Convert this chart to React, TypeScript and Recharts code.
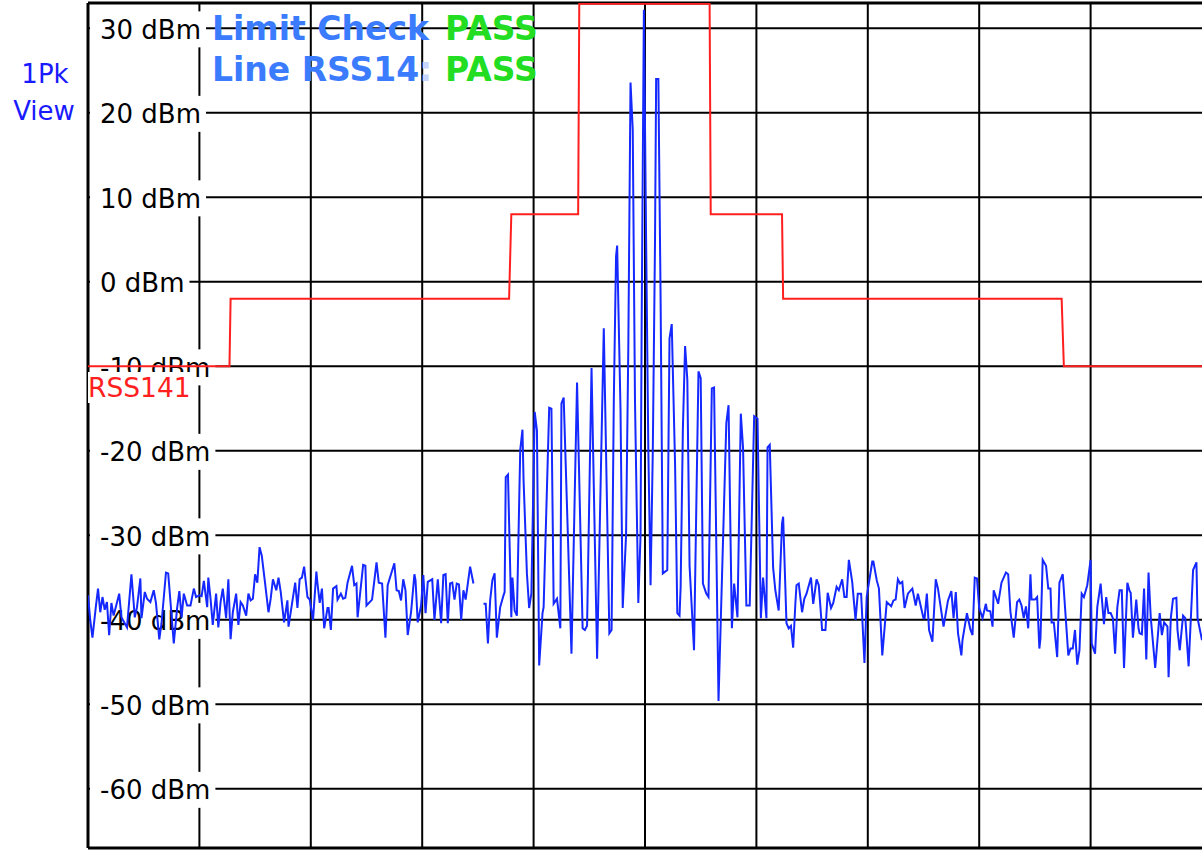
import React from 'react';
import { LineChart, Line, XAxis, YAxis, ReferenceLine } from 'recharts';

// level grid (dBm) and frequency divisions (kHz offset from centre)
const levelTicks = [30, 20, 10, 0, -10, -20, -30, -40, -50, -60];
const freqDivisions = [-400, -300, -200, -100, 0, 100, 200, 300, 400];
const levelRange: [number, number] = [-67, 33];
const freqRange: [number, number] = [-500, 500];

// limit line RSS141: [kHz, dBm]
const limitRss141: [number, number][] = [
  [-500, -10], [-373, -10], [-372, -2], [-122, -2], [-120, 8], [-60, 8], [-59, 32.9],
  [58, 32.9], [59, 8], [123, 8], [124, -2], [374, -2], [376, -10], [500, -10],
];

// trace 1Pk View: [kHz, dBm]
const traceLeft: [number, number][] = [
  [-500, -37.1], [-498, -40.0], [-496, -42.1], [-493, -38.5], [-491, -36.3], [-489, -39.1],
  [-487, -37.3], [-485, -38.8], [-483, -37.9], [-481, -41.8], [-479, -38.0], [-477, -39.5],
  [-472, -36.9], [-470, -39.7], [-465, -40.9], [-461, -34.6], [-458, -39.7], [-456, -38.5],
  [-453, -35.1], [-452, -39.8], [-449, -36.7], [-447, -37.5], [-444, -37.9], [-441, -36.5],
  [-439, -38.0], [-436, -42.3], [-434, -40.4], [-430, -34.4], [-428, -34.5], [-426, -37.8],
  [-423, -42.8], [-420, -38.6], [-418, -36.6], [-416, -39.7], [-414, -36.9], [-411, -38.3],
  [-408, -38.3], [-405, -36.3], [-403, -37.3], [-400, -37.1], [-398, -37.2], [-396, -35.4],
  [-393, -38.5], [-392, -35.0], [-390, -37.5], [-388, -40.6], [-385, -36.9], [-383, -40.9],
  [-381, -37.9], [-379, -36.3], [-376, -39.8], [-374, -35.2], [-372, -42.3], [-370, -39.1],
  [-367, -36.9], [-365, -40.6], [-363, -37.9], [-361, -38.3], [-358, -39.5], [-356, -36.9],
  [-354, -37.7], [-352, -37.5], [-350, -34.6], [-348, -35.6], [-346, -31.4], [-344, -32.4],
  [-341, -35.7], [-338, -39.1], [-336, -37.5], [-334, -35.2], [-331, -36.5], [-329, -35.0],
  [-327, -36.7], [-324, -40.3], [-321, -37.7], [-320, -40.8], [-314, -35.6], [-312, -38.6],
  [-310, -35.2], [-308, -35.0], [-306, -33.7], [-303, -37.3], [-301, -37.6], [-298, -40.0],
  [-295, -34.3], [-294, -35.7], [-292, -38.0], [-290, -36.3], [-288, -41.0], [-285, -38.6],
  [-284, -38.6], [-282, -41.2], [-280, -36.3], [-277, -36.0], [-276, -37.6], [-273, -36.9],
  [-271, -37.5], [-269, -37.4], [-267, -35.6], [-263, -33.6], [-261, -35.9], [-259, -35.7],
  [-258, -39.7], [-253, -33.5], [-251, -33.6], [-250, -38.3], [-245, -37.6], [-241, -33.2],
  [-239, -35.6], [-236, -35.7], [-233, -42.1], [-231, -35.9], [-225, -33.3], [-223, -36.5],
  [-221, -36.6], [-219, -37.7], [-217, -35.2], [-215, -36.5], [-213, -41.8], [-210, -39.1],
  [-207, -34.6], [-206, -35.3], [-204, -40.3], [-201, -38.3], [-199, -34.7], [-197, -39.2],
  [-195, -35.5], [-191, -35.2], [-189, -40.0], [-186, -35.2], [-183, -40.4], [-181, -34.7],
  [-179, -34.6], [-177, -40.4], [-175, -35.7], [-173, -35.6], [-171, -37.6], [-169, -35.7],
  [-167, -35.8], [-165, -40.0], [-163, -36.5], [-161, -37.6], [-157, -33.7], [-154, -35.7],
];

const traceBurst: [number, number][] = [
  [-145, -38.1], [-143, -38.1], [-141, -42.8], [-139, -37.7], [-137, -35.3], [-135, -34.5],
  [-133, -42.1], [-130, -38.5], [-127, -37.1], [-126, -36.7], [-125, -23.1], [-123, -22.8],
  [-120, -39.7], [-119, -35.0], [-117, -38.9], [-115, -39.5], [-112, -19.9], [-110, -17.5],
  [-109, -23.5], [-106, -34.5], [-104, -38.6], [-102, -36.9], [-99, -15.4], [-97, -17.6],
  [-95, -45.4], [-92, -39.2], [-91, -38.5], [-86, -14.9], [-84, -15.0], [-82, -38.1],
  [-79, -37.5], [-76, -41.0], [-75, -14.4], [-73, -13.7], [-66, -44.0], [-61, -11.9],
  [-56, -41.0], [-54, -41.2], [-52, -40.7], [-48, -10.2], [-43, -44.6], [-37, -5.5],
  [-32, -41.6], [-30, -41.2], [-28, -14.0], [-26, 3.0], [-25, 4.3], [-22, -15.0],
  [-20, -38.6], [-17, -30.0], [-15, -8.0], [-13, 23.6], [-11, 18.0], [-9, -14.0],
  [-6, -38.0], [-4, -30.0], [-3, -5.0], [-1, 32.2], [1, 5.0], [3, -20.0],
  [5, -35.9], [7, -20.0], [9, 5.0], [10, 24.0], [12, 24.0], [14, -2.0],
  [16, -34.5], [20, -34.1], [22, -6.7], [24, -5.0], [27, -21.6], [29, -39.2],
  [31, -39.5], [32, -36.1], [34, -17.4], [36, -7.6], [38, -11.6], [40, -33.6],
  [44, -43.6], [48, -10.6], [50, -11.4], [52, -35.7], [55, -36.9], [57, -37.3],
  [60, -12.6], [62, -12.5], [66, -49.6], [73, -16.7], [75, -14.6], [78, -41.0],
  [80, -35.7], [83, -39.7], [86, -15.6], [88, -19.6], [91, -38.3], [94, -38.3],
  [98, -15.9], [101, -16.2], [104, -39.8], [106, -35.0], [109, -39.8], [110, -19.6],
  [112, -19.3], [115, -33.8], [117, -36.5], [120, -38.9], [123, -28.6], [124, -27.8],
  [127, -40.4], [129, -41.0], [131, -40.7], [133, -43.3], [135, -38.0], [136, -35.9],
  [138, -35.7],
];

const traceRight: [number, number][] = [
  [141, -39.1], [143, -37.5], [145, -36.9], [149, -35.0], [151, -38.1], [154, -35.2],
  [156, -35.9], [159, -41.2], [162, -41.2], [164, -36.8], [167, -38.6], [169, -38.0],
  [172, -36.1], [174, -36.5], [177, -35.2], [179, -37.3], [181, -37.3], [183, -32.9],
  [186, -35.5], [189, -40.0], [191, -36.9], [194, -36.9], [197, -45.1], [199, -37.3],
  [204, -33.1], [205, -33.1], [208, -35.3], [210, -36.3], [213, -44.2], [217, -37.9],
  [221, -38.4], [223, -37.7], [225, -37.6], [227, -35.2], [229, -35.7], [231, -35.5],
  [233, -38.6], [236, -36.9], [240, -36.3], [243, -38.3], [245, -36.9], [250, -39.8],
  [251, -39.8], [253, -36.9], [255, -41.2], [258, -42.6], [261, -35.2], [263, -36.3],
  [268, -40.8], [272, -37.7], [275, -36.6], [277, -39.8], [279, -36.7], [281, -41.6],
  [284, -44.2], [285, -42.4], [289, -39.2], [292, -41.1], [294, -41.8], [296, -35.0],
  [298, -35.1], [300, -38.6], [303, -39.8], [306, -38.1], [307, -38.9], [310, -39.0],
  [312, -40.8], [313, -36.5], [317, -38.1], [320, -35.6], [324, -34.4], [326, -34.6],
  [328, -39.0], [331, -42.1], [334, -37.9], [336, -37.6], [338, -38.3], [340, -39.8],
  [342, -38.4], [344, -41.0], [346, -34.6], [347, -37.6], [350, -37.6], [352, -37.3],
  [354, -43.4], [355, -42.2], [357, -32.9], [360, -33.6], [362, -36.3], [364, -36.3],
  [365, -40.3], [367, -40.3], [370, -44.4], [372, -35.6], [375, -34.6], [380, -44.2],
  [382, -43.4], [384, -43.4], [386, -41.2], [388, -45.3], [390, -43.6], [392, -36.9],
  [394, -37.3], [397, -35.9], [400, -32.9], [401, -42.8], [404, -44.0], [406, -38.5],
  [409, -35.7], [412, -40.5], [414, -37.3], [416, -39.2], [418, -39.2], [420, -39.8],
  [422, -44.0], [424, -38.5], [426, -36.5], [428, -36.5], [430, -45.7], [433, -35.6],
  [435, -36.6], [436, -36.8], [438, -42.1], [441, -37.6], [443, -41.0], [444, -41.6],
  [446, -41.7], [448, -36.3], [450, -44.7], [452, -34.4], [454, -39.7], [458, -45.7],
  [462, -39.2], [464, -41.8], [466, -40.3], [469, -40.8], [470, -46.8], [472, -39.8],
  [474, -37.5], [477, -37.4], [478, -41.2], [480, -43.6], [483, -39.5], [485, -39.8],
  [488, -45.5], [492, -34.1], [495, -33.2], [496, -39.8], [500, -42.4],
];

// sweep gap where the trace is not drawn
const traceGapAt = -150;

const toPoints = (pairs: [number, number][]) => pairs.map(([f, dBm]) => ({ f, dBm }));
const limitPoints = toPoints(limitRss141);
const tracePoints = [
  ...toPoints(traceLeft),
  { f: traceGapAt, dBm: null },
  ...toPoints(traceBurst),
  ...toPoints(traceRight),
];

const FONT = '"DejaVu Sans", Verdana, sans-serif';
const TRACE_BLUE = '#1428ff';
const LIMIT_RED = '#ff1f1f';
const CHECK_BLUE = '#3b7cff';
const PASS_GREEN = '#22dd22';

// rough DejaVu Sans advance widths, used to size the white label boxes
const advance = (s: string) =>
  s.split('').reduce((w, c) => w + (c === '-' ? 0.361 : c === ' ' ? 0.318 : c === 'd' ? 0.635 : c === 'B' ? 0.686 : c === 'm' ? 0.974 : 0.636), 0);

function LevelLabel(props: any) {
  const { viewBox, value } = props;
  if (!viewBox) return null;
  const text = `${value} dBm`;
  const w = advance(text) * 26;
  return (
    <g>
      <rect x={viewBox.x + 2} y={viewBox.y - 17} width={w + 15} height={36} fill="#fff" />
      <text x={viewBox.x + 12} y={viewBox.y + 10.5} fontSize={26} fontFamily={FONT} fill="#000">
        {text}
      </text>
    </g>
  );
}

export default function App() {
  return (
    <div style={{ position: 'relative', width: 1202, height: 850, overflow: 'hidden', background: '#fff' }}>
      <style>{'body{margin:0}'}</style>
      <LineChart width={1202} height={850} margin={{ top: 3, right: 0, bottom: 2, left: 88 }}>
        <XAxis type="number" dataKey="f" domain={freqRange} hide allowDataOverflow />
        <YAxis type="number" domain={levelRange} hide allowDataOverflow width={0} />
        {freqDivisions.map((f) => (
          <ReferenceLine key={`f${f}`} x={f} stroke="#000" strokeWidth={2} />
        ))}
        {levelTicks.map((v) => (
          <ReferenceLine
            key={`l${v}`}
            y={v}
            stroke="#000"
            strokeWidth={2}
            label={(p: any) => <LevelLabel {...p} value={v} />}
          />
        ))}
        <ReferenceLine y={levelRange[1]} stroke="#000" strokeWidth={3} />
        <ReferenceLine y={levelRange[0]} stroke="#000" strokeWidth={3} />
        <ReferenceLine x={freqRange[0]} stroke="#000" strokeWidth={3} />
        <Line
          data={limitPoints}
          dataKey="dBm"
          type="linear"
          stroke={LIMIT_RED}
          strokeWidth={2}
          dot={false}
          isAnimationActive={false}
        />
        <Line
          data={tracePoints}
          dataKey="dBm"
          type="linear"
          stroke={TRACE_BLUE}
          strokeWidth={2}
          dot={false}
          isAnimationActive={false}
        />
      </LineChart>
      <svg width={1202} height={850} style={{ position: 'absolute', left: 0, top: 0, pointerEvents: 'none' }}>
        <g fontFamily={FONT}>
          <text x={45} y={83} fontSize={26} fill="#1a1aff" textAnchor="middle">1Pk</text>
          <text x={44} y={120} fontSize={26} fill="#1a1aff" textAnchor="middle">View</text>
          <g fontSize={33} fontWeight="bold">
            <text x={212} y={40} fill={CHECK_BLUE}>Limit Check</text>
            <text x={445} y={40} fill={PASS_GREEN}>PASS</text>
            <text x={212} y={81}>
              <tspan fill={CHECK_BLUE}>Line RSS14</tspan>
              <tspan fill="#c8d6ff">:</tspan>
            </text>
            <text x={445} y={81} fill={PASS_GREEN}>PASS</text>
          </g>
          <rect x={88} y={372} width={106} height={31} fill="#fff" />
          <text x={88} y={397} fontSize={26.5} fill={LIMIT_RED}>RSS141</text>
        </g>
      </svg>
    </div>
  );
}
